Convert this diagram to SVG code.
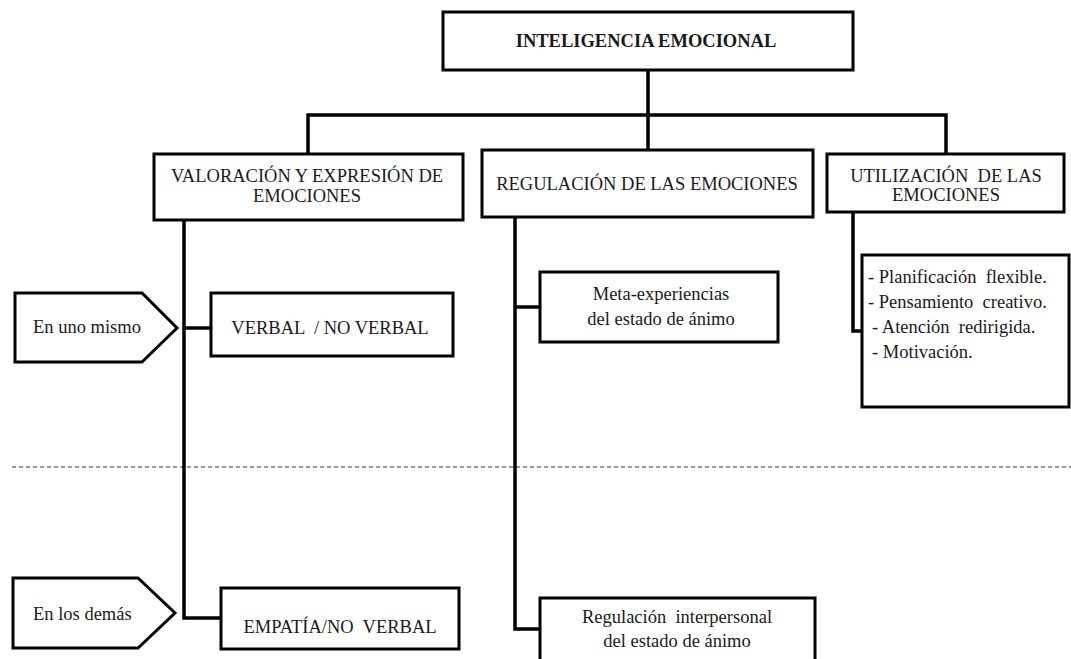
<svg xmlns="http://www.w3.org/2000/svg" width="1071" height="659" viewBox="0 0 1071 659">
<style>
.box{fill:#fff;stroke:#000;stroke-width:3}
.ln{fill:none;stroke:#000;stroke-width:3.5}
.dash{fill:none;stroke:#333;stroke-width:1;stroke-dasharray:4 3}
text{font-size:18.5px;fill:#1a1a1a;white-space:pre}
.c{text-anchor:middle}
.b{font-weight:bold}
</style>
<rect width="1071" height="659" fill="#fff"/>
<line class="dash" x1="12" y1="467" x2="1071" y2="467"/>
<g id="connectors">
<polyline class="ln" points="648,70 648,150"/>
<polyline class="ln" points="308,154 308,115 946,115 946,154"/>
<polyline class="ln" points="184,220 184,618 221,618"/>
<polyline class="ln" points="184,328 211,328"/>
<polyline class="ln" points="515,217 515,629 540,629"/>
<polyline class="ln" points="515,307 540,307"/>
<polyline class="ln" points="853,212 853,331 862,331"/>
</g>
<g font-family="'Liberation Serif', 'DejaVu Serif', serif">
<g id="n-top">
<rect class="box" x="443" y="12" width="410" height="58"/>
<text class="c b" x="646" y="47">INTELIGENCIA EMOCIONAL</text>
</g>
<g id="n-valoracion">
<rect class="box" x="154" y="154" width="309" height="66"/>
<text class="c" x="307" y="182">VALORACIÓN Y EXPRESIÓN DE</text>
<text class="c" x="307" y="202">EMOCIONES</text>
</g>
<g id="n-regulacion">
<rect class="box" x="482" y="150" width="331" height="67"/>
<text class="c" x="647" y="190">REGULACIÓN DE LAS EMOCIONES</text>
</g>
<g id="n-utilizacion">
<rect class="box" x="827" y="154" width="237" height="58"/>
<text class="c" x="946" y="182">UTILIZACIÓN  DE LAS</text>
<text class="c" x="946" y="201">EMOCIONES</text>
</g>
<g id="n-uno">
<polygon class="box" points="15,293 142,293 177,328 142,362 15,362"/>
<text x="33" y="333">En uno mismo</text>
</g>
<g id="n-demas">
<polygon class="box" points="13,578 138,578 175,613 138,648 13,648"/>
<text x="33" y="620">En los demás</text>
</g>
<g id="n-verbal">
<rect class="box" x="211" y="293" width="242" height="63"/>
<text class="c" x="330" y="334">VERBAL  / NO VERBAL</text>
</g>
<g id="n-empatia">
<rect class="box" x="221" y="588" width="238" height="61"/>
<text class="c" x="340" y="633">EMPATÍA/NO  VERBAL</text>
</g>
<g id="n-meta">
<rect class="box" x="540" y="272" width="238" height="70"/>
<text class="c" x="661" y="300">Meta-experiencias</text>
<text class="c" x="661" y="325">del estado de ánimo</text>
</g>
<g id="n-interpersonal">
<rect class="box" x="540" y="598" width="275" height="70"/>
<text class="c" x="677" y="623">Regulación  interpersonal</text>
<text class="c" x="677" y="647">del estado de ánimo</text>
</g>
<g id="n-lista">
<rect class="box" x="862" y="255" width="207" height="152"/>
<text x="868" y="283">- Planificación  flexible.</text>
<text x="868" y="308">- Pensamiento  creativo.</text>
<text x="872" y="333">- Atención  redirigida.</text>
<text x="872" y="358">- Motivación.</text>
</g>
</g>
</svg>
